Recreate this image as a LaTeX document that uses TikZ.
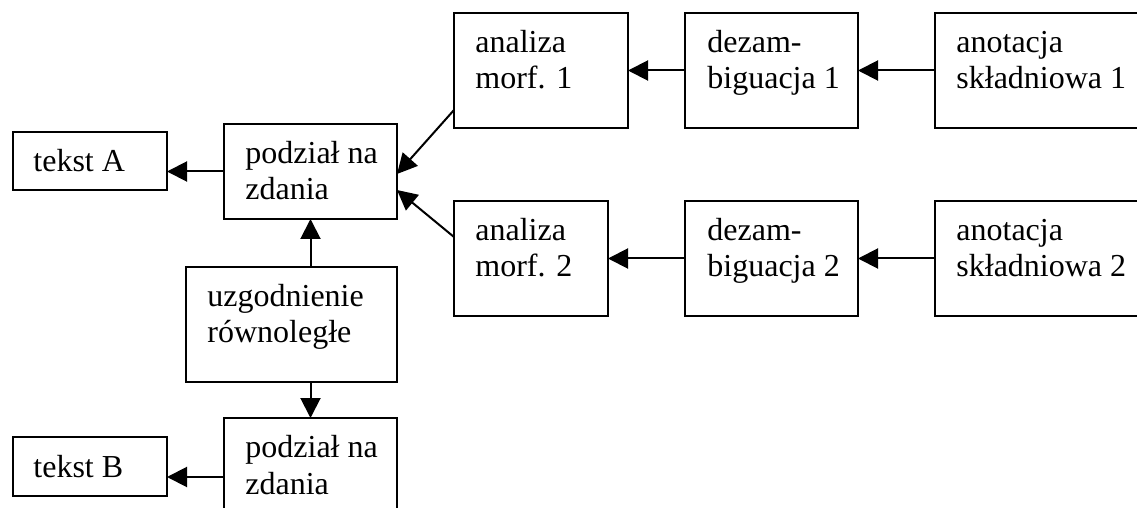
\documentclass[tikz,border=0pt]{standalone}
\usepackage{fontspec}
\setmainfont{Liberation Serif}
\usetikzlibrary{arrows.meta,calc}
% #1 name, #2-#5 box corners (px), #6 text padding, #7 baseline of last line below top, #8 text
\newcommand\mybox[8]{%
  \node[box, minimum width={(#4-#2)*0.5pt}, minimum height={(#5-#3)*0.5pt}] (#1) at ({(#2+#4)/2},{(#3+#5)/2}) {};
  \node[lbl] (#1t) at ({#2+#6},{#3+#7}) {#8};}
\begin{document}
\begin{tikzpicture}[x=0.5pt,y=-0.5pt,
  box/.style={draw, line width=1pt, inner sep=0pt, outer sep=0pt},
  lbl/.style={anchor=base west, align=left, inner sep=0pt, font=\fontsize{16}{18}\selectfont},
  arr/.style={line width=1pt, -{Triangle[length=10pt,width=10pt]}}]
\useasboundingbox (0,0) rectangle (1137,508);
\clip (0,0) rectangle (1137,508);
\mybox{tA}{13}{132}{167}{190}{20}{40}{tekst A}
\mybox{pA}{224}{124}{397}{219}{21}{76}{podział na\\zdania}
\mybox{uz}{186}{267}{397}{382}{21}{76}{uzgodnienie\\równoległe}
\mybox{pB}{224}{418}{397}{530}{21}{76}{podział na\\zdania}
\mybox{tB}{13}{437}{167}{496}{20}{40}{tekst B}
\mybox{an1}{454}{13}{628}{128}{21}{76}{analiza\\morf. 1}
\mybox{dz1}{685}{13}{858}{128}{22}{76}{dezam-\\biguacja 1}
\mybox{at1}{935}{13}{1160}{128}{21}{76}{anotacja\\składniowa 1}
\mybox{an2}{454}{201}{608}{316}{21}{76}{analiza\\morf. 2}
\mybox{dz2}{685}{201}{858}{316}{22}{76}{dezam-\\biguacja 2}
\mybox{at2}{935}{201}{1160}{316}{21}{76}{anotacja\\składniowa 2}
% connectors
\draw[arr] (pA.west) -- (pA.west -| tA.east);
\coordinate (pBa) at ($(pB.north west)+(0,59)$);
\draw[arr] (pBa) -- (pBa -| tB.east);
\draw[arr] (uz.north -| pA.south) -- (pA.south);
\draw[arr] (uz.south -| pB.north) -- (pB.north);
\draw[arr] (dz1.west) -- (an1.east);
\draw[arr] (at1.west) -- (dz1.east);
\draw[arr] (dz2.west) -- (an2.east);
\draw[arr] (at2.west) -- (dz2.east);
\draw[arr] ($(an1.south west)+(0,-18)$) -- ($(pA.north east)+(0,50)$);
\draw[arr] ($(an2.north west)+(0,36)$) -- ($(pA.north east)+(0,66)$);
\end{tikzpicture}
\end{document}
